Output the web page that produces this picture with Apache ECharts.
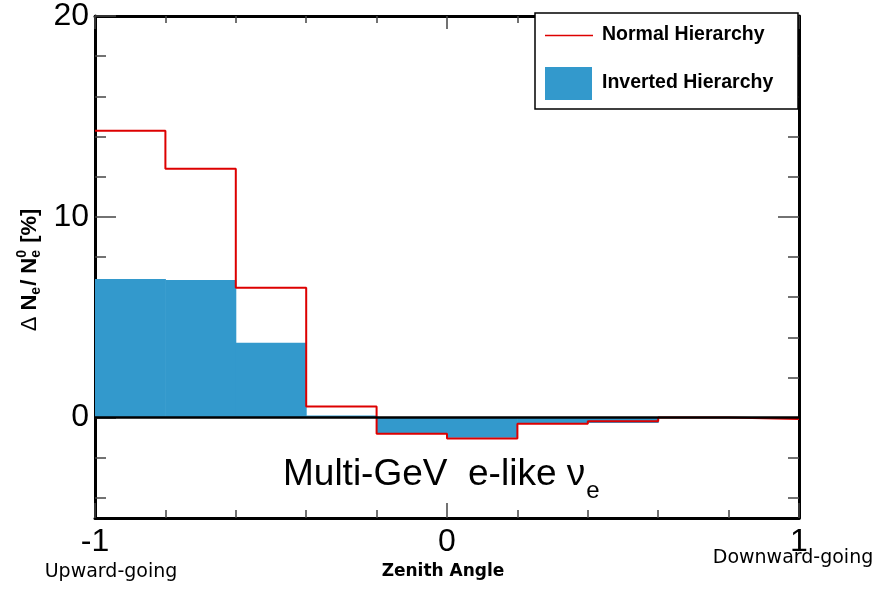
<!DOCTYPE html>
<html>
<head>
<meta charset="utf-8">
<script src="https://cdn.jsdelivr.net/npm/echarts@6/dist/echarts.min.js"></script>
<style>
html,body{margin:0;padding:0;background:#fff;}
#chart{width:888px;height:590px;}
</style>
</head>
<body>
<div id="chart"></div>
<script>
// ---- data ----
const binEdges = [-1, -0.8, -0.6, -0.4, -0.2, 0, 0.2, 0.4, 0.6, 0.8, 1];
const normalHierarchy = [14.28, 12.39, 6.47, 0.55, -0.81, -1.04, -0.31, -0.18, 0.0, -0.07];
const invertedHierarchy = [6.9, 6.85, 3.73, 0.1, -0.78, -1.0, -0.3, -0.27, -0.02, 0.0];
const yMajorTicks = [0, 10, 20];
const yMinorTicks = [-4, -2, 2, 4, 6, 8, 12, 14, 16, 18];
const xTickLabels = {'-1': '-1', '0': '0', '1': '1'};
const seriesNames = ['Normal Hierarchy', 'Inverted Hierarchy'];
const titleMain = 'Multi-GeV  e-like \u03bd';
const titleSub = 'e';
const xCaptions = ['Upward-going', 'Zenith Angle', 'Downward-going'];

// ---- build series data ----
const redStep = binEdges.map((e, i) => [e, i < normalHierarchy.length ? normalHierarchy[i] : normalHierarchy[normalHierarchy.length - 1]]);
const blueBins = invertedHierarchy.map((v, i) => [binEdges[i], binEdges[i + 1], v]);

const chart = echarts.init(document.getElementById('chart'), null, {renderer: 'canvas'});

const mctx = document.createElement('canvas').getContext('2d');
function tw(text, font) { mctx.font = font; return mctx.measureText(text).width; }

const LS = '"Liberation Sans", Arial, sans-serif';
const DJ = '"DejaVu Sans", sans-serif';

const titleFont = '37px ' + LS;
const titleX = 283;
const titleW = tw(titleMain, titleFont);

const yFont = 'bold 22px ' + LS;
const yDelta = '22px ' + LS;
const ySmall = 'bold 14px ' + LS;
const pd = '\u0394 ', p1 = 'N', p2 = '/ N', p3 = ' [%]';
const wd = tw(pd, yDelta), w1 = tw(p1, yFont), wsub = tw('e', ySmall), w2 = tw(p2, yFont), w0 = tw('0', ySmall), w3 = tw(p3, yFont);
const yLen = wd + w1 + wsub + 1 + w2 + Math.max(wsub, w0) + 1 + w3;
const yCenter = 270;

const axisBlack = {color: '#000', width: 3};
const tickStyle = {color: '#444', width: 1.5};

const option = {
  animation: false,
  backgroundColor: '#fff',
  grid: {left: 95, right: 89, top: 14, bottom: 72, containLabel: false},
  xAxis: [
    {
      type: 'value', min: -1, max: 1, interval: 1, position: 'bottom',
      axisLine: {show: true, onZero: false, lineStyle: axisBlack},
      axisTick: {show: true, inside: true, length: 15, lineStyle: tickStyle},
      minorTick: {show: true, splitNumber: 5, length: 8, lineStyle: tickStyle},
      splitLine: {show: false}, minorSplitLine: {show: false},
      axisLabel: {fontSize: 32, color: '#000', margin: 8, fontFamily: LS,
        formatter: v => xTickLabels[String(v)] !== undefined ? xTickLabels[String(v)] : ''}
    },
    {
      type: 'value', min: -1, max: 1, interval: 1, position: 'top',
      axisLine: {show: true, onZero: false, lineStyle: axisBlack},
      axisTick: {show: true, inside: true, length: 13, lineStyle: tickStyle},
      minorTick: {show: true, splitNumber: 5, length: 7, lineStyle: tickStyle},
      splitLine: {show: false}, minorSplitLine: {show: false},
      axisLabel: {show: false}
    }
  ],
  yAxis: [
    {
      type: 'value', min: -5, max: 20, position: 'left',
      axisLine: {show: true, onZero: false, lineStyle: axisBlack},
      axisTick: {show: true, inside: true, length: 21, lineStyle: tickStyle, customValues: yMajorTicks},
      axisLabel: {show: true, customValues: yMajorTicks, fontSize: 32, color: '#000', margin: 6, fontFamily: LS},
      splitLine: {show: false}
    },
    {
      type: 'value', min: -5, max: 20, position: 'left',
      axisLine: {show: false, onZero: false},
      axisTick: {show: true, inside: true, length: 11, lineStyle: tickStyle, customValues: yMinorTicks},
      axisLabel: {show: false}, splitLine: {show: false}
    },
    {
      type: 'value', min: -5, max: 20, position: 'right',
      axisLine: {show: true, onZero: false, lineStyle: axisBlack},
      axisTick: {show: true, inside: true, length: 21, lineStyle: tickStyle, customValues: yMajorTicks},
      axisLabel: {show: false}, splitLine: {show: false}
    },
    {
      type: 'value', min: -5, max: 20, position: 'right',
      axisLine: {show: false, onZero: false},
      axisTick: {show: true, inside: true, length: 11, lineStyle: tickStyle, customValues: yMinorTicks},
      axisLabel: {show: false}, splitLine: {show: false}
    }
  ],
  series: [
    {
      name: seriesNames[1],
      type: 'custom',
      xAxisIndex: 0, yAxisIndex: 0,
      z: 2,
      data: blueBins,
      encode: {x: [0, 1], y: 2},
      renderItem: function (params, api) {
        const p0 = api.coord([api.value(0), 0]);
        const p1c = api.coord([api.value(1), api.value(2)]);
        const y0 = Math.min(p0[1], p1c[1]);
        const h = Math.abs(p0[1] - p1c[1]);
        return {
          type: 'rect',
          shape: {x: p0[0], y: y0, width: p1c[0] - p0[0] + 0.5, height: h},
          style: {fill: '#3399cc'}
        };
      }
    },
    {
      name: seriesNames[0],
      type: 'line',
      xAxisIndex: 0, yAxisIndex: 0,
      step: 'end',
      z: 3,
      showSymbol: false,
      symbol: 'none',
      data: redStep,
      lineStyle: {color: '#dd0000', width: 2}
    },
    {
      name: 'zero',
      type: 'line',
      xAxisIndex: 0, yAxisIndex: 0,
      z: 4,
      symbol: 'none',
      data: [[-1, 0], [1, 0]],
      lineStyle: {color: '#000', width: 2.5}
    }
  ],
  graphic: [
    {type: 'rect', z: 10, shape: {x: 535, y: 13, width: 263, height: 96},
      style: {fill: '#fff', stroke: '#000', lineWidth: 1.5}},
    {type: 'line', z: 11, shape: {x1: 545, y1: 35.5, x2: 593, y2: 35.5},
      style: {stroke: '#dd0000', lineWidth: 1.5}},
    {type: 'rect', z: 11, shape: {x: 545, y: 67, width: 47, height: 33},
      style: {fill: '#3399cc'}},
    {type: 'text', z: 11, x: 602, y: 35,
      style: {text: seriesNames[0], font: 'bold 19.5px ' + LS, fill: '#000', verticalAlign: 'middle'}},
    {type: 'text', z: 11, x: 602, y: 83,
      style: {text: seriesNames[1], font: 'bold 19.5px ' + LS, fill: '#000', verticalAlign: 'middle'}},
    {type: 'text', z: 11, x: titleX, y: 475,
      style: {text: titleMain, font: titleFont, fill: '#000', verticalAlign: 'middle'}},
    {type: 'text', z: 11, x: titleX + titleW + 1, y: 491,
      style: {text: titleSub, font: '24px ' + LS, fill: '#000', verticalAlign: 'middle'}},
    {type: 'text', z: 11, x: 111, y: 572,
      style: {text: xCaptions[0], font: '19px ' + DJ, fill: '#000', align: 'center', verticalAlign: 'middle'}},
    {type: 'text', z: 11, x: 443, y: 572,
      style: {text: xCaptions[1], font: 'bold 17px ' + DJ, fill: '#000', align: 'center', verticalAlign: 'middle'}},
    {type: 'text', z: 11, x: 793, y: 558,
      style: {text: xCaptions[2], font: '19px ' + DJ, fill: '#000', align: 'center', verticalAlign: 'middle'}},
    {
      type: 'group', x: 30, y: yCenter + yLen / 2, rotation: Math.PI / 2, z: 11,
      children: [
        {type: 'text', x: 0, y: 0, style: {text: pd, font: yDelta, fill: '#000', verticalAlign: 'middle'}},
        {type: 'text', x: wd, y: 0, style: {text: p1, font: yFont, fill: '#000', verticalAlign: 'middle'}},
        {type: 'text', x: wd + w1, y: 6, style: {text: 'e', font: ySmall, fill: '#000', verticalAlign: 'middle'}},
        {type: 'text', x: wd + w1 + wsub + 1, y: 0, style: {text: p2, font: yFont, fill: '#000', verticalAlign: 'middle'}},
        {type: 'text', x: wd + w1 + wsub + 1 + w2, y: 6, style: {text: 'e', font: ySmall, fill: '#000', verticalAlign: 'middle'}},
        {type: 'text', x: wd + w1 + wsub + 1 + w2, y: -8, style: {text: '0', font: ySmall, fill: '#000', verticalAlign: 'middle'}},
        {type: 'text', x: wd + w1 + wsub + 1 + w2 + Math.max(wsub, w0) + 1, y: 0, style: {text: p3, font: yFont, fill: '#000', verticalAlign: 'middle'}}
      ]
    }
  ]
};
chart.setOption(option);
</script>
</body>
</html>
